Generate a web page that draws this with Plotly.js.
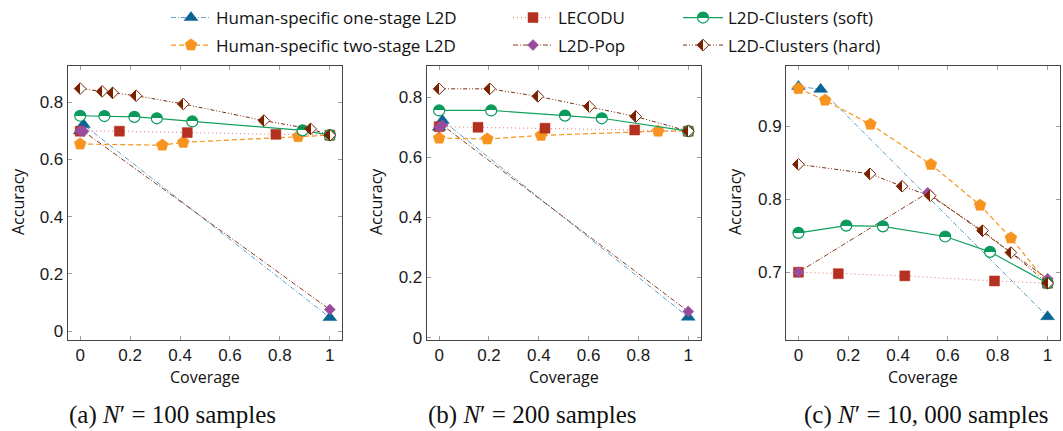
<!DOCTYPE html>
<html>
<head>
<meta charset="utf-8">
<script src="https://cdn.plot.ly/plotly-3.0.1.min.js"></script>
<style>html,body{margin:0;padding:0;background:#fff;}#chart{width:1063px;height:431px;}</style>
</head>
<body>
<div id="chart"></div>
<script>
// ---------- data ----------
const seriesNames = ['Human-specific one-stage L2D', 'Human-specific two-stage L2D', 'LECODU', 'L2D-Pop', 'L2D-Clusters (soft)', 'L2D-Clusters (hard)'];
const captions = ['(a) <i>N</i>′ = 100 samples', '(b) <i>N</i>′ = 200 samples', '(c) <i>N</i>′ = 10, 000 samples'];
const xTickVals = [0, 0.2, 0.4, 0.6, 0.8, 1];
const xTickText = ['0', '0.2', '0.4', '0.6', '0.8', '1'];

// (a) N' = 100
const X1_one = [0, 0.013, 1];                          const Y1_one = [0.700, 0.722, 0.047];
const X1_two = [0, 0.329, 0.413, 0.873, 1];            const Y1_two = [0.654, 0.650, 0.660, 0.680, 0.685];
const X1_lec = [0, 0.157, 0.429, 0.784, 1];            const Y1_lec = [0.699, 0.699, 0.694, 0.688, 0.685];
const X1_pop = [0, 0.013, 1];                          const Y1_pop = [0.700, 0.699, 0.075];
const X1_soft = [0, 0.097, 0.217, 0.307, 0.449, 0.891, 1];
const Y1_soft = [0.753, 0.752, 0.749, 0.744, 0.733, 0.702, 0.685];
const X1_hard = [0, 0.088, 0.130, 0.224, 0.413, 0.736, 0.923, 1];
const Y1_hard = [0.848, 0.838, 0.833, 0.823, 0.794, 0.736, 0.707, 0.685];

// (b) N' = 200
const X2_one = [0, 0.013, 1];                          const Y2_one = [0.700, 0.723, 0.068];
const X2_two = [0, 0.193, 0.409, 0.879, 1];            const Y2_two = [0.664, 0.661, 0.673, 0.687, 0.687];
const X2_lec = [0, 0.156, 0.425, 0.785, 1];            const Y2_lec = [0.702, 0.700, 0.697, 0.691, 0.687];
const X2_pop = [0, 0.013, 1];                          const Y2_pop = [0.700, 0.707, 0.087];
const X2_soft = [0, 0.209, 0.505, 0.653, 1];           const Y2_soft = [0.756, 0.756, 0.739, 0.730, 0.687];
const X2_hard = [0, 0.203, 0.396, 0.603, 0.789, 1];    const Y2_hard = [0.828, 0.828, 0.803, 0.769, 0.736, 0.687];

// (c) N' = 10,000
const X3_one = [0, 0.089, 1];                          const Y3_one = [0.955, 0.951, 0.639];
const X3_two = [0, 0.107, 0.289, 0.532, 0.729, 0.853, 1];
const Y3_two = [0.952, 0.936, 0.903, 0.848, 0.792, 0.747, 0.685];
const X3_lec = [0, 0.160, 0.427, 0.787, 1];            const Y3_lec = [0.700, 0.698, 0.695, 0.688, 0.685];
const X3_pop = [0, 0.519, 1];                          const Y3_pop = [0.700, 0.809, 0.691];
const X3_soft = [0, 0.192, 0.339, 0.589, 0.769, 1];    const Y3_soft = [0.754, 0.764, 0.763, 0.749, 0.728, 0.685];
const X3_hard = [0, 0.287, 0.416, 0.529, 0.739, 0.853, 1];
const Y3_hard = [0.848, 0.835, 0.818, 0.805, 0.757, 0.727, 0.685];

// ---------- styles ----------
const W = 1063, H = 431;
const px = v => v / W;
const py = v => 1 - v / H;

const styles = [
  {line: {color: '#5a9fca', width: 1, dash: '5px,2px,1px,2px'}, marker: {symbol: 'triangle-up', size: 12, color: '#0b6394', line: {color: '#0b6394', width: 0.5}}},
  {line: {color: '#f7931e', width: 1.2, dash: '5px,3px'}, marker: {symbol: 'pentagon', size: 12.5, color: '#f7931e', line: {color: '#f7931e', width: 0.5}}},
  {line: {color: '#e58a7c', width: 1.2, dash: '1px,3px'}, marker: {symbol: 'square', size: 10, color: '#b5311f', line: {color: '#b5311f', width: 0.5}}},
  {line: {color: '#8a3a1c', width: 1, dash: '5px,2px,1px,2px'}, marker: {symbol: 'diamond', size: 8.5, color: '#994c9e', line: {color: '#994c9e', width: 0.5}}},
  {line: {color: '#12a05e', width: 1.2, dash: 'solid'}, marker: {symbol: 'circle', size: 11, color: '#0a9a5c', gradient: {type: 'vertical', color: '#ffffff'}, line: {color: '#0a9a5c', width: 1.2}}},
  {line: {color: '#7a2a0c', width: 1, dash: '4px,2px,1px,2px,1px,2px'}, marker: {symbol: 'diamond', size: 9, color: '#7a2200', gradient: {type: 'horizontal', color: '#ffffff'}, line: {color: '#7a2200', width: 1}}}
];

const panels = [
  {xs: [X1_one, X1_two, X1_lec, X1_pop, X1_soft, X1_hard], ys: [Y1_one, Y1_two, Y1_lec, Y1_pop, Y1_soft, Y1_hard]},
  {xs: [X2_one, X2_two, X2_lec, X2_pop, X2_soft, X2_hard], ys: [Y2_one, Y2_two, Y2_lec, Y2_pop, Y2_soft, Y2_hard]},
  {xs: [X3_one, X3_two, X3_lec, X3_pop, X3_soft, X3_hard], ys: [Y3_one, Y3_two, Y3_lec, Y3_pop, Y3_soft, Y3_hard]}
];
const legendIds = ['legend', 'legend2', 'legend3', 'legend4', 'legend5', 'legend6'];

const traces = [];
panels.forEach((p, pi) => {
  p.xs.forEach((xv, si) => {
    traces.push({
      type: 'scatter', mode: 'lines+markers',
      x: xv, y: p.ys[si],
      name: seriesNames[si],
      xaxis: pi === 0 ? 'x' : 'x' + (pi + 1),
      yaxis: pi === 0 ? 'y' : 'y' + (pi + 1),
      line: styles[si].line, marker: styles[si].marker,
      showlegend: pi === 0,
      legend: legendIds[si],
      cliponaxis: false,
      hoverinfo: 'x+y+name'
    });
  });
});

// ---------- layout ----------
const tickFont = {family: 'Liberation Sans, Arial, sans-serif', size: 17, color: '#1a1a1a'};
function xAxis(domain, anchor) {
  return {domain: domain, anchor: anchor, range: [-0.05, 1.05], tickvals: xTickVals, ticktext: xTickText,
    showgrid: false, zeroline: false, showline: true, linecolor: '#444', linewidth: 1, mirror: 'ticks',
    ticks: 'inside', ticklen: 4, tickcolor: '#999', tickwidth: 1, tickfont: tickFont};
}
function yAxis(range, dtick, anchor) {
  return {domain: [py(340), py(66)], anchor: anchor, range: range, dtick: dtick,
    showgrid: false, zeroline: false, showline: true, linecolor: '#444', linewidth: 1, mirror: 'ticks',
    ticks: 'inside', ticklen: 4, tickcolor: '#999', tickwidth: 1, tickfont: tickFont};
}

const legendFont = {family: 'Open Sans, sans-serif', size: 17, color: '#111'};
const legendPos = [[166, 18], [166, 45.5], [508, 18], [508, 45.5], [678, 18], [678, 45.5]];
// order of series into legend slots: one-stage, two-stage, LECODU, Pop, soft, hard
const layout = {
  width: W, height: H,
  margin: {l: 0, r: 0, t: 0, b: 0},
  paper_bgcolor: '#fff', plot_bgcolor: '#fff',
  xaxis: xAxis([px(67.7), px(342.3)], 'y'),
  xaxis2: xAxis([px(426.7), px(700.7)], 'y2'),
  xaxis3: xAxis([px(786), px(1060)], 'y3'),
  yaxis: yAxis([-0.0315, 0.927], 0.2, 'x'),
  yaxis2: yAxis([-0.008, 0.904], 0.2, 'x2'),
  yaxis3: yAxis([0.607, 0.983], 0.1, 'x3'),
  annotations: [],
  hovermode: 'closest'
};
legendIds.forEach((id, i) => {
  layout[id] = {x: px(legendPos[i][0]), y: py(legendPos[i][1]), xanchor: 'left', yanchor: 'middle',
    orientation: 'v', bgcolor: 'rgba(0,0,0,0)', borderwidth: 0, font: legendFont, itemwidth: 40};
});

const axisTitleFont = {family: 'Open Sans, sans-serif', size: 16, color: '#111'};
const yTitleX = [18, 376, 735];
const plotCenters = [205, 563.7, 923];
const captionCenters = [172.5, 532, 926.5];
for (let i = 0; i < 3; i++) {
  layout.annotations.push({text: 'Accuracy', xref: 'paper', yref: 'paper', x: px(yTitleX[i]), y: py(202),
    textangle: -90, showarrow: false, xanchor: 'center', yanchor: 'middle', font: axisTitleFont});
  layout.annotations.push({text: 'Coverage', xref: 'paper', yref: 'paper', x: px(plotCenters[i]), y: py(377),
    showarrow: false, xanchor: 'center', yanchor: 'middle', font: axisTitleFont});
  layout.annotations.push({text: captions[i], xref: 'paper', yref: 'paper', x: px(captionCenters[i]), y: py(415),
    showarrow: false, xanchor: 'center', yanchor: 'middle',
    font: {family: 'Liberation Serif, Times New Roman, serif', size: 25, color: '#111'}});
}

function sharpenGradients() {
  const ns = 'http://www.w3.org/2000/svg';
  document.querySelectorAll('#chart linearGradient').forEach(g => {
    const stops = g.querySelectorAll('stop');
    if (stops.length !== 2) return;
    const a = stops[0], b = stops[1];
    const mk = src => {
      const s = document.createElementNS(ns, 'stop');
      s.setAttribute('offset', '50%');
      s.setAttribute('stop-color', src.getAttribute('stop-color'));
      s.setAttribute('stop-opacity', src.getAttribute('stop-opacity') || 1);
      return s;
    };
    g.insertBefore(mk(a), b);
    g.insertBefore(mk(b), b);
  });
}

Plotly.newPlot('chart', traces, layout, {displayModeBar: false, responsive: false}).then(sharpenGradients);
</script>
</body>
</html>
